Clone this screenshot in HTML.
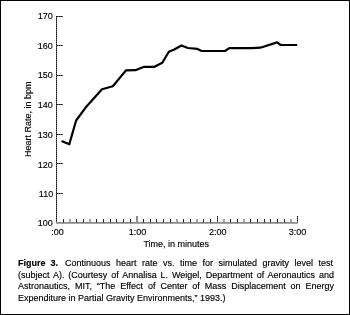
<!DOCTYPE html>
<html><head><meta charset="utf-8"><style>
html,body{margin:0;padding:0;}
body{-webkit-font-smoothing:antialiased;will-change:transform;width:350px;height:315px;position:relative;background:#fff;overflow:hidden;font-family:"Liberation Sans",sans-serif;color:#000;-webkit-text-stroke:0.15px #000;}
.frame{position:absolute;left:0;top:0;width:348px;height:313px;border:1px solid #000;}
svg{position:absolute;left:0;top:0;}
.yl{position:absolute;right:297px;font-size:9.5px;line-height:11px;white-space:nowrap;transform:scaleX(0.947);transform-origin:100% 50%;}
.xl{position:absolute;top:227px;font-size:9px;line-height:11px;white-space:nowrap;transform:translateX(-50%);}
.ytitle{position:absolute;left:0;top:0;font-size:9px;line-height:11px;white-space:nowrap;transform-origin:0 0;}
.xtitle{position:absolute;left:143.4px;top:239px;font-size:9px;line-height:11px;white-space:nowrap;}
.cap{position:absolute;left:18px;width:316px;font-size:9px;line-height:11px;white-space:nowrap;}
.j{text-align:justify;text-align-last:justify;}
</style></head><body>
<div class="frame"></div>
<svg width="350" height="315" viewBox="0 0 350 315">
<rect x="56" y="16" width="1" height="1" fill="#151515"/><rect x="56" y="17" width="1" height="1" fill="#5a5a5a"/><rect x="56" y="18" width="1" height="1" fill="#151515"/><rect x="56" y="19" width="1" height="1" fill="#5a5a5a"/><rect x="56" y="20" width="1" height="1" fill="#151515"/><rect x="56" y="21" width="1" height="1" fill="#5a5a5a"/><rect x="56" y="22" width="1" height="1" fill="#151515"/><rect x="56" y="23" width="1" height="1" fill="#5a5a5a"/><rect x="56" y="24" width="1" height="1" fill="#151515"/><rect x="56" y="25" width="1" height="1" fill="#5a5a5a"/><rect x="56" y="26" width="1" height="1" fill="#151515"/><rect x="56" y="27" width="1" height="1" fill="#5a5a5a"/><rect x="56" y="28" width="1" height="1" fill="#151515"/><rect x="56" y="29" width="1" height="1" fill="#5a5a5a"/><rect x="56" y="30" width="1" height="1" fill="#151515"/><rect x="56" y="31" width="1" height="1" fill="#5a5a5a"/><rect x="56" y="32" width="1" height="1" fill="#151515"/><rect x="56" y="33" width="1" height="1" fill="#5a5a5a"/><rect x="56" y="34" width="1" height="1" fill="#151515"/><rect x="56" y="35" width="1" height="1" fill="#5a5a5a"/><rect x="56" y="36" width="1" height="1" fill="#151515"/><rect x="56" y="37" width="1" height="1" fill="#5a5a5a"/><rect x="56" y="38" width="1" height="1" fill="#151515"/><rect x="56" y="39" width="1" height="1" fill="#5a5a5a"/><rect x="56" y="40" width="1" height="1" fill="#151515"/><rect x="56" y="41" width="1" height="1" fill="#5a5a5a"/><rect x="56" y="42" width="1" height="1" fill="#151515"/><rect x="56" y="43" width="1" height="1" fill="#5a5a5a"/><rect x="56" y="44" width="1" height="1" fill="#151515"/><rect x="56" y="45" width="1" height="1" fill="#5a5a5a"/><rect x="56" y="46" width="1" height="1" fill="#151515"/><rect x="56" y="47" width="1" height="1" fill="#5a5a5a"/><rect x="56" y="48" width="1" height="1" fill="#151515"/><rect x="56" y="49" width="1" height="1" fill="#5a5a5a"/><rect x="56" y="50" width="1" height="1" fill="#151515"/><rect x="56" y="51" width="1" height="1" fill="#5a5a5a"/><rect x="56" y="52" width="1" height="1" fill="#151515"/><rect x="56" y="53" width="1" height="1" fill="#5a5a5a"/><rect x="56" y="54" width="1" height="1" fill="#151515"/><rect x="56" y="55" width="1" height="1" fill="#5a5a5a"/><rect x="56" y="56" width="1" height="1" fill="#151515"/><rect x="56" y="57" width="1" height="1" fill="#5a5a5a"/><rect x="56" y="58" width="1" height="1" fill="#151515"/><rect x="56" y="59" width="1" height="1" fill="#5a5a5a"/><rect x="56" y="60" width="1" height="1" fill="#151515"/><rect x="56" y="61" width="1" height="1" fill="#5a5a5a"/><rect x="56" y="62" width="1" height="1" fill="#151515"/><rect x="56" y="63" width="1" height="1" fill="#5a5a5a"/><rect x="56" y="64" width="1" height="1" fill="#151515"/><rect x="56" y="65" width="1" height="1" fill="#5a5a5a"/><rect x="56" y="66" width="1" height="1" fill="#151515"/><rect x="56" y="67" width="1" height="1" fill="#5a5a5a"/><rect x="56" y="68" width="1" height="1" fill="#151515"/><rect x="56" y="69" width="1" height="1" fill="#5a5a5a"/><rect x="56" y="70" width="1" height="1" fill="#151515"/><rect x="56" y="71" width="1" height="1" fill="#5a5a5a"/><rect x="56" y="72" width="1" height="1" fill="#151515"/><rect x="56" y="73" width="1" height="1" fill="#5a5a5a"/><rect x="56" y="74" width="1" height="1" fill="#151515"/><rect x="56" y="75" width="1" height="1" fill="#5a5a5a"/><rect x="56" y="76" width="1" height="1" fill="#151515"/><rect x="56" y="77" width="1" height="1" fill="#5a5a5a"/><rect x="56" y="78" width="1" height="1" fill="#151515"/><rect x="56" y="79" width="1" height="1" fill="#5a5a5a"/><rect x="56" y="80" width="1" height="1" fill="#151515"/><rect x="56" y="81" width="1" height="1" fill="#5a5a5a"/><rect x="56" y="82" width="1" height="1" fill="#151515"/><rect x="56" y="83" width="1" height="1" fill="#5a5a5a"/><rect x="56" y="84" width="1" height="1" fill="#151515"/><rect x="56" y="85" width="1" height="1" fill="#5a5a5a"/><rect x="56" y="86" width="1" height="1" fill="#151515"/><rect x="56" y="87" width="1" height="1" fill="#5a5a5a"/><rect x="56" y="88" width="1" height="1" fill="#151515"/><rect x="56" y="89" width="1" height="1" fill="#5a5a5a"/><rect x="56" y="90" width="1" height="1" fill="#151515"/><rect x="56" y="91" width="1" height="1" fill="#5a5a5a"/><rect x="56" y="92" width="1" height="1" fill="#151515"/><rect x="56" y="93" width="1" height="1" fill="#5a5a5a"/><rect x="56" y="94" width="1" height="1" fill="#151515"/><rect x="56" y="95" width="1" height="1" fill="#5a5a5a"/><rect x="56" y="96" width="1" height="1" fill="#151515"/><rect x="56" y="97" width="1" height="1" fill="#5a5a5a"/><rect x="56" y="98" width="1" height="1" fill="#151515"/><rect x="56" y="99" width="1" height="1" fill="#5a5a5a"/><rect x="56" y="100" width="1" height="1" fill="#151515"/><rect x="56" y="101" width="1" height="1" fill="#5a5a5a"/><rect x="56" y="102" width="1" height="1" fill="#151515"/><rect x="56" y="103" width="1" height="1" fill="#5a5a5a"/><rect x="56" y="104" width="1" height="1" fill="#151515"/><rect x="56" y="105" width="1" height="1" fill="#5a5a5a"/><rect x="56" y="106" width="1" height="1" fill="#151515"/><rect x="56" y="107" width="1" height="1" fill="#5a5a5a"/><rect x="56" y="108" width="1" height="1" fill="#151515"/><rect x="56" y="109" width="1" height="1" fill="#5a5a5a"/><rect x="56" y="110" width="1" height="1" fill="#151515"/><rect x="56" y="111" width="1" height="1" fill="#5a5a5a"/><rect x="56" y="112" width="1" height="1" fill="#151515"/><rect x="56" y="113" width="1" height="1" fill="#5a5a5a"/><rect x="56" y="114" width="1" height="1" fill="#151515"/><rect x="56" y="115" width="1" height="1" fill="#5a5a5a"/><rect x="56" y="116" width="1" height="1" fill="#151515"/><rect x="56" y="117" width="1" height="1" fill="#5a5a5a"/><rect x="56" y="118" width="1" height="1" fill="#151515"/><rect x="56" y="119" width="1" height="1" fill="#5a5a5a"/><rect x="56" y="120" width="1" height="1" fill="#151515"/><rect x="56" y="121" width="1" height="1" fill="#5a5a5a"/><rect x="56" y="122" width="1" height="1" fill="#151515"/><rect x="56" y="123" width="1" height="1" fill="#5a5a5a"/><rect x="56" y="124" width="1" height="1" fill="#151515"/><rect x="56" y="125" width="1" height="1" fill="#5a5a5a"/><rect x="56" y="126" width="1" height="1" fill="#151515"/><rect x="56" y="127" width="1" height="1" fill="#5a5a5a"/><rect x="56" y="128" width="1" height="1" fill="#151515"/><rect x="56" y="129" width="1" height="1" fill="#5a5a5a"/><rect x="56" y="130" width="1" height="1" fill="#151515"/><rect x="56" y="131" width="1" height="1" fill="#5a5a5a"/><rect x="56" y="132" width="1" height="1" fill="#151515"/><rect x="56" y="133" width="1" height="1" fill="#5a5a5a"/><rect x="56" y="134" width="1" height="1" fill="#151515"/><rect x="56" y="135" width="1" height="1" fill="#5a5a5a"/><rect x="56" y="136" width="1" height="1" fill="#151515"/><rect x="56" y="137" width="1" height="1" fill="#5a5a5a"/><rect x="56" y="138" width="1" height="1" fill="#151515"/><rect x="56" y="139" width="1" height="1" fill="#5a5a5a"/><rect x="56" y="140" width="1" height="1" fill="#151515"/><rect x="56" y="141" width="1" height="1" fill="#5a5a5a"/><rect x="56" y="142" width="1" height="1" fill="#151515"/><rect x="56" y="143" width="1" height="1" fill="#5a5a5a"/><rect x="56" y="144" width="1" height="1" fill="#151515"/><rect x="56" y="145" width="1" height="1" fill="#5a5a5a"/><rect x="56" y="146" width="1" height="1" fill="#151515"/><rect x="56" y="147" width="1" height="1" fill="#5a5a5a"/><rect x="56" y="148" width="1" height="1" fill="#151515"/><rect x="56" y="149" width="1" height="1" fill="#5a5a5a"/><rect x="56" y="150" width="1" height="1" fill="#151515"/><rect x="56" y="151" width="1" height="1" fill="#5a5a5a"/><rect x="56" y="152" width="1" height="1" fill="#151515"/><rect x="56" y="153" width="1" height="1" fill="#5a5a5a"/><rect x="56" y="154" width="1" height="1" fill="#151515"/><rect x="56" y="155" width="1" height="1" fill="#5a5a5a"/><rect x="56" y="156" width="1" height="1" fill="#151515"/><rect x="56" y="157" width="1" height="1" fill="#5a5a5a"/><rect x="56" y="158" width="1" height="1" fill="#151515"/><rect x="56" y="159" width="1" height="1" fill="#5a5a5a"/><rect x="56" y="160" width="1" height="1" fill="#151515"/><rect x="56" y="161" width="1" height="1" fill="#5a5a5a"/><rect x="56" y="162" width="1" height="1" fill="#151515"/><rect x="56" y="163" width="1" height="1" fill="#5a5a5a"/><rect x="56" y="164" width="1" height="1" fill="#151515"/><rect x="56" y="165" width="1" height="1" fill="#5a5a5a"/><rect x="56" y="166" width="1" height="1" fill="#151515"/><rect x="56" y="167" width="1" height="1" fill="#5a5a5a"/><rect x="56" y="168" width="1" height="1" fill="#151515"/><rect x="56" y="169" width="1" height="1" fill="#5a5a5a"/><rect x="56" y="170" width="1" height="1" fill="#151515"/><rect x="56" y="171" width="1" height="1" fill="#5a5a5a"/><rect x="56" y="172" width="1" height="1" fill="#151515"/><rect x="56" y="173" width="1" height="1" fill="#5a5a5a"/><rect x="56" y="174" width="1" height="1" fill="#151515"/><rect x="56" y="175" width="1" height="1" fill="#5a5a5a"/><rect x="56" y="176" width="1" height="1" fill="#151515"/><rect x="56" y="177" width="1" height="1" fill="#5a5a5a"/><rect x="56" y="178" width="1" height="1" fill="#151515"/><rect x="56" y="179" width="1" height="1" fill="#5a5a5a"/><rect x="56" y="180" width="1" height="1" fill="#151515"/><rect x="56" y="181" width="1" height="1" fill="#5a5a5a"/><rect x="56" y="182" width="1" height="1" fill="#151515"/><rect x="56" y="183" width="1" height="1" fill="#5a5a5a"/><rect x="56" y="184" width="1" height="1" fill="#151515"/><rect x="56" y="185" width="1" height="1" fill="#5a5a5a"/><rect x="56" y="186" width="1" height="1" fill="#151515"/><rect x="56" y="187" width="1" height="1" fill="#5a5a5a"/><rect x="56" y="188" width="1" height="1" fill="#151515"/><rect x="56" y="189" width="1" height="1" fill="#5a5a5a"/><rect x="56" y="190" width="1" height="1" fill="#151515"/><rect x="56" y="191" width="1" height="1" fill="#5a5a5a"/><rect x="56" y="192" width="1" height="1" fill="#151515"/><rect x="56" y="193" width="1" height="1" fill="#5a5a5a"/><rect x="56" y="194" width="1" height="1" fill="#151515"/><rect x="56" y="195" width="1" height="1" fill="#5a5a5a"/><rect x="56" y="196" width="1" height="1" fill="#151515"/><rect x="56" y="197" width="1" height="1" fill="#5a5a5a"/><rect x="56" y="198" width="1" height="1" fill="#151515"/><rect x="56" y="199" width="1" height="1" fill="#5a5a5a"/><rect x="56" y="200" width="1" height="1" fill="#151515"/><rect x="56" y="201" width="1" height="1" fill="#5a5a5a"/><rect x="56" y="202" width="1" height="1" fill="#151515"/><rect x="56" y="203" width="1" height="1" fill="#5a5a5a"/><rect x="56" y="204" width="1" height="1" fill="#151515"/><rect x="56" y="205" width="1" height="1" fill="#5a5a5a"/><rect x="56" y="206" width="1" height="1" fill="#151515"/><rect x="56" y="207" width="1" height="1" fill="#5a5a5a"/><rect x="56" y="208" width="1" height="1" fill="#151515"/><rect x="56" y="209" width="1" height="1" fill="#5a5a5a"/><rect x="56" y="210" width="1" height="1" fill="#151515"/><rect x="56" y="211" width="1" height="1" fill="#5a5a5a"/><rect x="56" y="212" width="1" height="1" fill="#151515"/><rect x="56" y="213" width="1" height="1" fill="#5a5a5a"/><rect x="56" y="214" width="1" height="1" fill="#151515"/><rect x="56" y="215" width="1" height="1" fill="#5a5a5a"/><rect x="56" y="216" width="1" height="1" fill="#151515"/><rect x="56" y="217" width="1" height="1" fill="#5a5a5a"/><rect x="56" y="218" width="1" height="1" fill="#151515"/><rect x="56" y="219" width="1" height="1" fill="#5a5a5a"/><rect x="56" y="220" width="1" height="1" fill="#151515"/><rect x="56" y="221" width="1" height="1" fill="#5a5a5a"/><rect x="57" y="16" width="1" height="1" fill="#151515"/><rect x="58" y="16" width="1" height="1" fill="#5a5a5a"/><rect x="59" y="16" width="1" height="1" fill="#151515"/><rect x="60" y="16" width="1" height="1" fill="#5a5a5a"/><rect x="61" y="16" width="1" height="1" fill="#151515"/><rect x="62" y="16" width="1" height="1" fill="#5a5a5a"/><rect x="57" y="45" width="1" height="1" fill="#151515"/><rect x="58" y="45" width="1" height="1" fill="#5a5a5a"/><rect x="59" y="45" width="1" height="1" fill="#151515"/><rect x="60" y="45" width="1" height="1" fill="#5a5a5a"/><rect x="61" y="45" width="1" height="1" fill="#151515"/><rect x="62" y="45" width="1" height="1" fill="#5a5a5a"/><rect x="57" y="75" width="1" height="1" fill="#151515"/><rect x="58" y="75" width="1" height="1" fill="#5a5a5a"/><rect x="59" y="75" width="1" height="1" fill="#151515"/><rect x="60" y="75" width="1" height="1" fill="#5a5a5a"/><rect x="61" y="75" width="1" height="1" fill="#151515"/><rect x="62" y="75" width="1" height="1" fill="#5a5a5a"/><rect x="57" y="104" width="1" height="1" fill="#151515"/><rect x="58" y="104" width="1" height="1" fill="#5a5a5a"/><rect x="59" y="104" width="1" height="1" fill="#151515"/><rect x="60" y="104" width="1" height="1" fill="#5a5a5a"/><rect x="61" y="104" width="1" height="1" fill="#151515"/><rect x="62" y="104" width="1" height="1" fill="#5a5a5a"/><rect x="57" y="134" width="1" height="1" fill="#151515"/><rect x="58" y="134" width="1" height="1" fill="#5a5a5a"/><rect x="59" y="134" width="1" height="1" fill="#151515"/><rect x="60" y="134" width="1" height="1" fill="#5a5a5a"/><rect x="61" y="134" width="1" height="1" fill="#151515"/><rect x="62" y="134" width="1" height="1" fill="#5a5a5a"/><rect x="57" y="163" width="1" height="1" fill="#151515"/><rect x="58" y="163" width="1" height="1" fill="#5a5a5a"/><rect x="59" y="163" width="1" height="1" fill="#151515"/><rect x="60" y="163" width="1" height="1" fill="#5a5a5a"/><rect x="61" y="163" width="1" height="1" fill="#151515"/><rect x="62" y="163" width="1" height="1" fill="#5a5a5a"/><rect x="57" y="193" width="1" height="1" fill="#151515"/><rect x="58" y="193" width="1" height="1" fill="#5a5a5a"/><rect x="59" y="193" width="1" height="1" fill="#151515"/><rect x="60" y="193" width="1" height="1" fill="#5a5a5a"/><rect x="61" y="193" width="1" height="1" fill="#151515"/><rect x="62" y="193" width="1" height="1" fill="#5a5a5a"/><rect x="56" y="222" width="242" height="1" fill="#8c8c8c"/><rect x="56" y="223" width="242" height="1" fill="#a6a6a6"/><rect x="63" y="219" width="1" height="3" fill="#222"/><rect x="63" y="222" width="1" height="1" fill="#555"/><rect x="76" y="219" width="1" height="3" fill="#222"/><rect x="76" y="222" width="1" height="1" fill="#555"/><rect x="83" y="219" width="1" height="3" fill="#222"/><rect x="83" y="222" width="1" height="1" fill="#555"/><rect x="96" y="219" width="1" height="3" fill="#222"/><rect x="96" y="222" width="1" height="1" fill="#555"/><rect x="103" y="219" width="1" height="3" fill="#222"/><rect x="103" y="222" width="1" height="1" fill="#555"/><rect x="110" y="219" width="1" height="3" fill="#222"/><rect x="110" y="222" width="1" height="1" fill="#555"/><rect x="116" y="219" width="1" height="3" fill="#222"/><rect x="116" y="222" width="1" height="1" fill="#555"/><rect x="123" y="219" width="1" height="3" fill="#222"/><rect x="123" y="222" width="1" height="1" fill="#555"/><rect x="130" y="219" width="1" height="3" fill="#222"/><rect x="130" y="222" width="1" height="1" fill="#555"/><rect x="143" y="219" width="1" height="3" fill="#222"/><rect x="143" y="222" width="1" height="1" fill="#555"/><rect x="150" y="219" width="1" height="3" fill="#222"/><rect x="150" y="222" width="1" height="1" fill="#555"/><rect x="156" y="219" width="1" height="3" fill="#222"/><rect x="156" y="222" width="1" height="1" fill="#555"/><rect x="163" y="219" width="1" height="3" fill="#222"/><rect x="163" y="222" width="1" height="1" fill="#555"/><rect x="170" y="219" width="1" height="3" fill="#222"/><rect x="170" y="222" width="1" height="1" fill="#555"/><rect x="183" y="219" width="1" height="3" fill="#222"/><rect x="183" y="222" width="1" height="1" fill="#555"/><rect x="190" y="219" width="1" height="3" fill="#222"/><rect x="190" y="222" width="1" height="1" fill="#555"/><rect x="203" y="219" width="1" height="3" fill="#222"/><rect x="203" y="222" width="1" height="1" fill="#555"/><rect x="210" y="219" width="1" height="3" fill="#222"/><rect x="210" y="222" width="1" height="1" fill="#555"/><rect x="230" y="219" width="1" height="3" fill="#222"/><rect x="230" y="222" width="1" height="1" fill="#555"/><rect x="237" y="219" width="1" height="3" fill="#222"/><rect x="237" y="222" width="1" height="1" fill="#555"/><rect x="250" y="219" width="1" height="3" fill="#222"/><rect x="250" y="222" width="1" height="1" fill="#555"/><rect x="257" y="219" width="1" height="3" fill="#222"/><rect x="257" y="222" width="1" height="1" fill="#555"/><rect x="264" y="219" width="1" height="3" fill="#222"/><rect x="264" y="222" width="1" height="1" fill="#555"/><rect x="270" y="219" width="1" height="3" fill="#222"/><rect x="270" y="222" width="1" height="1" fill="#555"/><rect x="277" y="219" width="1" height="3" fill="#222"/><rect x="277" y="222" width="1" height="1" fill="#555"/><rect x="284" y="219" width="1" height="3" fill="#222"/><rect x="284" y="222" width="1" height="1" fill="#555"/><rect x="69" y="219" width="2" height="3" fill="#a4a4a4"/><rect x="89" y="219" width="2" height="3" fill="#a4a4a4"/><rect x="176" y="219" width="2" height="3" fill="#a4a4a4"/><rect x="196" y="219" width="2" height="3" fill="#a4a4a4"/><rect x="223" y="219" width="2" height="3" fill="#a4a4a4"/><rect x="243" y="219" width="2" height="3" fill="#a4a4a4"/><rect x="290" y="219" width="2" height="3" fill="#a4a4a4"/><rect x="136" y="216" width="2" height="6" fill="#8a8a8a"/><rect x="217" y="216" width="1" height="1" fill="#151515"/><rect x="217" y="217" width="1" height="1" fill="#5a5a5a"/><rect x="217" y="218" width="1" height="1" fill="#151515"/><rect x="217" y="219" width="1" height="1" fill="#5a5a5a"/><rect x="217" y="220" width="1" height="1" fill="#151515"/><rect x="217" y="221" width="1" height="1" fill="#5a5a5a"/><rect x="297" y="216" width="1" height="1" fill="#151515"/><rect x="297" y="217" width="1" height="1" fill="#5a5a5a"/><rect x="297" y="218" width="1" height="1" fill="#151515"/><rect x="297" y="219" width="1" height="1" fill="#5a5a5a"/><rect x="297" y="220" width="1" height="1" fill="#151515"/><rect x="297" y="221" width="1" height="1" fill="#5a5a5a"/><path d="M61.5,141.0 L69.3,144.3 L76.1,120.5 L85.4,107.8 L102.0,89.3 L112.8,86.3 L126.0,70.4 L135.3,70.2 L143.5,66.9 L154.5,66.8 L162.3,62.8 L168.8,51.8 L174.3,49.5 L181.4,45.5 L187.9,48.0 L197.5,48.9 L201.6,51.0 L225.0,51.0 L229.3,48.2 L252.0,48.2 L260.3,47.7 L277.1,42.4 L280.8,45.0 L297.2,45.0" fill="none" stroke="#000" stroke-width="2.2" stroke-linejoin="round" stroke-linecap="butt"/>
</svg>
<div class="yl" style="top:10.3px">170</div><div class="yl" style="top:40.4px">160</div><div class="yl" style="top:69.3px">150</div><div class="yl" style="top:99.4px">140</div><div class="yl" style="top:129.4px">130</div><div class="yl" style="top:159.3px">120</div><div class="yl" style="top:188.4px">110</div><div class="yl" style="top:217.3px">100</div>
<div class="xl" style="left:57.4px">:00</div>
<div class="xl" style="left:137.4px">1:00</div>
<div class="xl" style="left:217.7px">2:00</div>
<div class="xl" style="left:297.5px">3:00</div>
<div class="xtitle">Time, in minutes</div>
<div class="ytitle" style="transform:translate(23px,157px) rotate(-90deg)">Heart Rate, in bpm</div>
<div class="cap" style="top:257.8px;width:auto;word-spacing:2.4px"><b>Figure 3.</b></div><div class="cap j" style="top:257.8px;left:65px;width:268px">Continuous heart rate vs. time for simulated gravity level test</div>
<div class="cap j" style="top:269.5px">(subject A). (Courtesy of Annalisa L. Weigel, Department of Aeronautics and</div>
<div class="cap j" style="top:281.2px">Astronautics, MIT, &#8220;The Effect of Center of Mass Displacement on Energy</div>
<div class="cap" style="top:292.9px">Expenditure in Partial Gravity Environments,&#8221; 1993.)</div>
</body></html>
